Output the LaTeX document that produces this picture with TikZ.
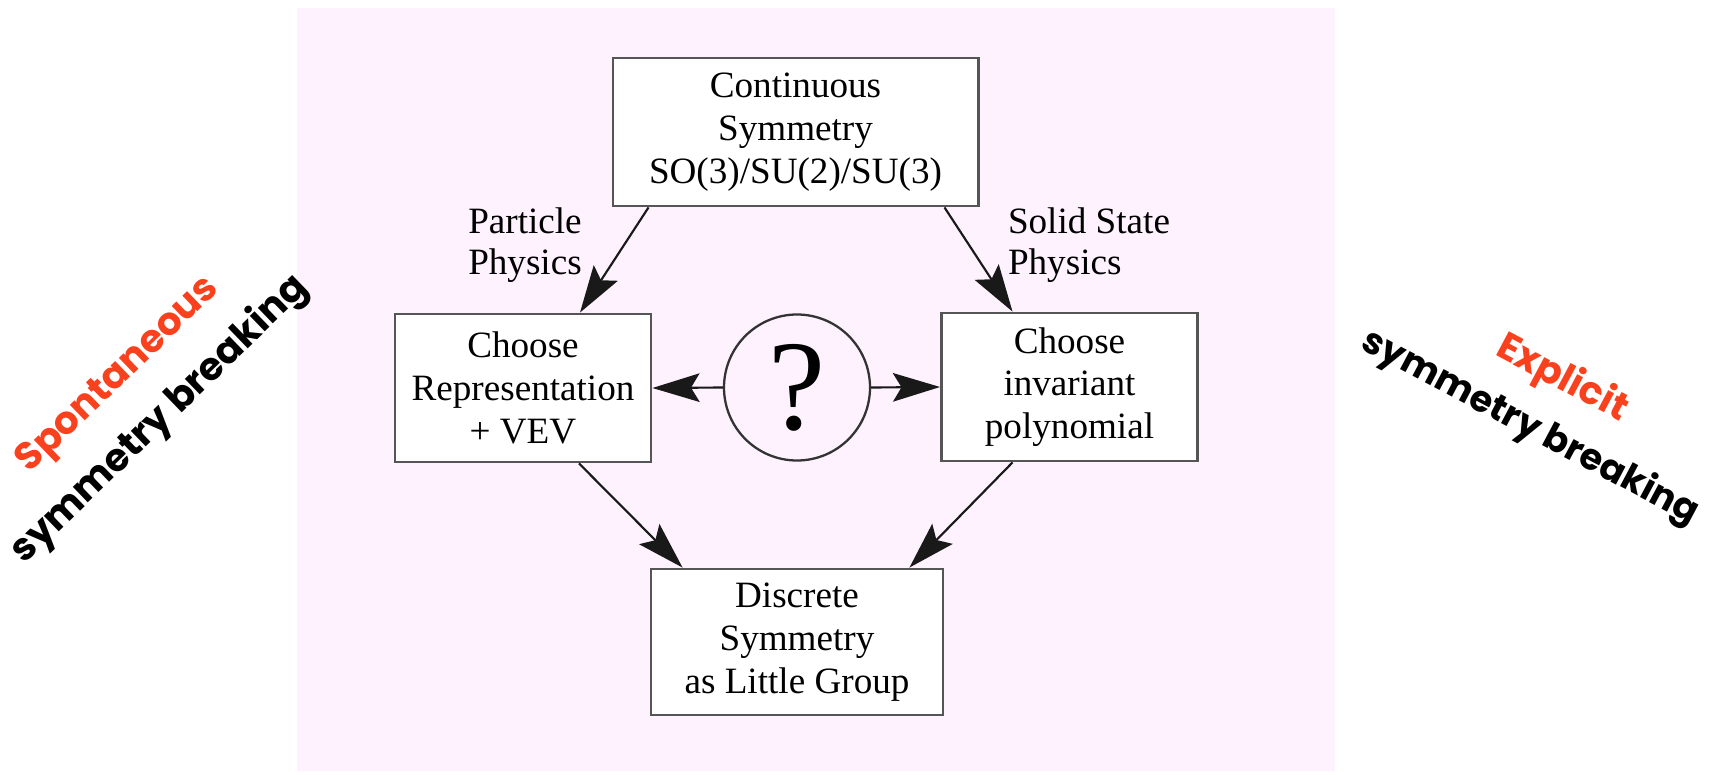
\documentclass[tikz,border=0pt]{standalone}
\usepackage{fontspec}
\setmainfont{Liberation Serif}
\newfontfamily\handfont{Poppins}
\usetikzlibrary{arrows.meta,positioning,calc}
\definecolor{bgpink}{RGB}{253,242,253}
\definecolor{boxgray}{RGB}{85,85,85}
\definecolor{hotred}{RGB}{250,65,30}

\begin{document}
\begin{tikzpicture}[x=0.35pt, y=-0.35pt, >={Stealth[length=16.5pt,width=10pt,inset=3pt]},
    box/.style={rectangle, draw=boxgray, line width=1pt, fill=white, align=center, inner sep=0pt, font=\fontsize{13}{15}\selectfont},
    lbl/.style={align=left, inner sep=0pt, font=\fontsize{13}{14.2}\selectfont},
    arr/.style={->, line width=0.75pt, draw=black!90, fill=black},
    hand/.style={inner sep=0pt, font=\handfont\bfseries\fontsize{13.5}{16}\selectfont}]
    \useasboundingbox (0,0) rectangle (1713,775);
    % Pink panel
    \fill[bgpink] (297,8) rectangle (1335,771);
    
    % Boxes
    \node[box, minimum width=127.8pt, minimum height=51.8pt] (cont) at (795.5,132) {Continuous\\Symmetry\\SO(3)/SU(2)/SU(3)};
    \node[box, minimum width=89.6pt, minimum height=51.8pt] (rep) at (523,388) {Choose\\Representation\\+ VEV};
    \node[box, minimum width=89.6pt, minimum height=51.8pt] (poly) at (1069.5,387) {Choose\\invariant\\polynomial};
    \node[box, minimum width=102.2pt, minimum height=51.1pt] (disc) at (797,642) {Discrete\\Symmetry\\as Little Group};
    
    % Question circle
    \node[circle, draw=black!80, line width=0.8pt, minimum size=51.1pt, inner sep=0pt, font=\fontsize{45}{45}\selectfont] (q) at (797,387.5) {?};
    
    % Branch labels
    \node[lbl] (pp) at (525,245) {Particle\\Physics};
    \node[lbl] (ssp) at (1089,245) {Solid State\\Physics};
    
    % Arrows
    \draw[arr] ($(cont.south west)+(37,0)$) -- ($(rep.north)+(57,0)$);
    \draw[arr] ($(cont.south east)+(-35,0)$) -- ($(poly.north)+(-57,0)$);
    \draw[arr] ($(rep.south)+(56,0)$) -- ($(disc.north west)+(33,0)$);
    \draw[arr] ($(poly.south)+(-57,0)$) -- ($(disc.north east)+(-35,0)$);
    \draw[arr] (q.west) -- (rep.east);
    \draw[arr] (q.east) -- (poly.west);
    
    % Side notes
    \node[hand, text=hotred, rotate=44] (spon) at (119,376) {Spontaneous};
    \node[hand, rotate=44] (sbl) at (160,420) {symmetry breaking};
    \node[hand, text=hotred, rotate=-28] (expl) at (1562,379) {Explicit};
    \node[hand, rotate=-28, font=\handfont\bfseries\fontsize{12.8}{16}\selectfont] (sbr) at (1530,428) {symmetry breaking};
\end{tikzpicture}
\end{document}
